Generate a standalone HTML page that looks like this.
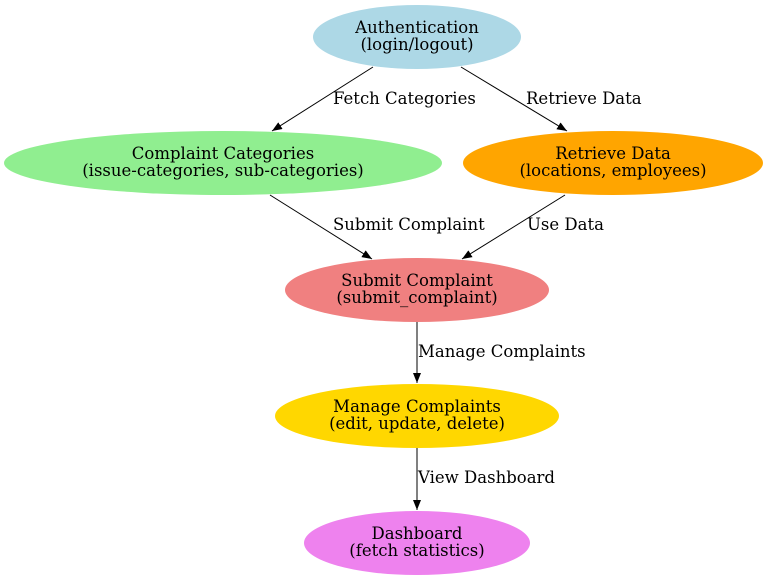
<!DOCTYPE html>
<html><head><meta charset="utf-8"><style>
html,body{margin:0;padding:0;background:#fff;}
svg{display:block;}
text{font-family:"DejaVu Serif","Liberation Serif",serif;font-size:16.5px;fill:#000;}
</style></head><body>
<svg width="768" height="580" viewBox="0 0 768 580" xmlns="http://www.w3.org/2000/svg">
<defs>
<marker id="a" markerWidth="10" markerHeight="8" refX="10" refY="4" orient="auto" markerUnits="userSpaceOnUse">
<path d="M0,0 L10,4 L0,8 Z" fill="#000"/>
</marker>
</defs>
<ellipse cx="417" cy="37" rx="104" ry="32" fill="#add8e6"/>
<ellipse cx="223" cy="163" rx="219" ry="32" fill="#90ee90"/>
<ellipse cx="613" cy="163" rx="150" ry="32" fill="#ffa500"/>
<ellipse cx="417" cy="290" rx="132" ry="32" fill="#f08080"/>
<ellipse cx="417" cy="416" rx="142" ry="32" fill="#ffd700"/>
<ellipse cx="417" cy="543" rx="113" ry="32" fill="#ee82ee"/>

<g stroke="#000" stroke-width="1" fill="none">
<line x1="373" y1="67" x2="272" y2="131" marker-end="url(#a)"/>
<line x1="461" y1="67" x2="567" y2="131" marker-end="url(#a)"/>
<line x1="270" y1="195" x2="372" y2="259" marker-end="url(#a)"/>
<line x1="565" y1="195" x2="462" y2="259" marker-end="url(#a)"/>
<line x1="417" y1="322" x2="417" y2="383" marker-end="url(#a)"/>
<line x1="417" y1="448" x2="417" y2="510" marker-end="url(#a)"/>
</g>

<g text-anchor="middle">
<text x="417" y="33">Authentication</text>
<text x="417" y="50">(login/logout)</text>
<text x="223" y="159">Complaint Categories</text>
<text x="223" y="176">(issue-categories, sub-categories)</text>
<text x="613" y="159">Retrieve Data</text>
<text x="613" y="176">(locations, employees)</text>
<text x="417" y="286">Submit Complaint</text>
<text x="417" y="303">(submit_complaint)</text>
<text x="417" y="412">Manage Complaints</text>
<text x="417" y="429">(edit, update, delete)</text>
<text x="417" y="539">Dashboard</text>
<text x="417" y="556">(fetch statistics)</text>
</g>
<g>
<text x="333" y="104">Fetch Categories</text>
<text x="526" y="104">Retrieve Data</text>
<text x="333" y="230">Submit Complaint</text>
<text x="527" y="230">Use Data</text>
<text x="418" y="357">Manage Complaints</text>
<text x="418" y="483">View Dashboard</text>
</g>
</svg>
</body></html>
